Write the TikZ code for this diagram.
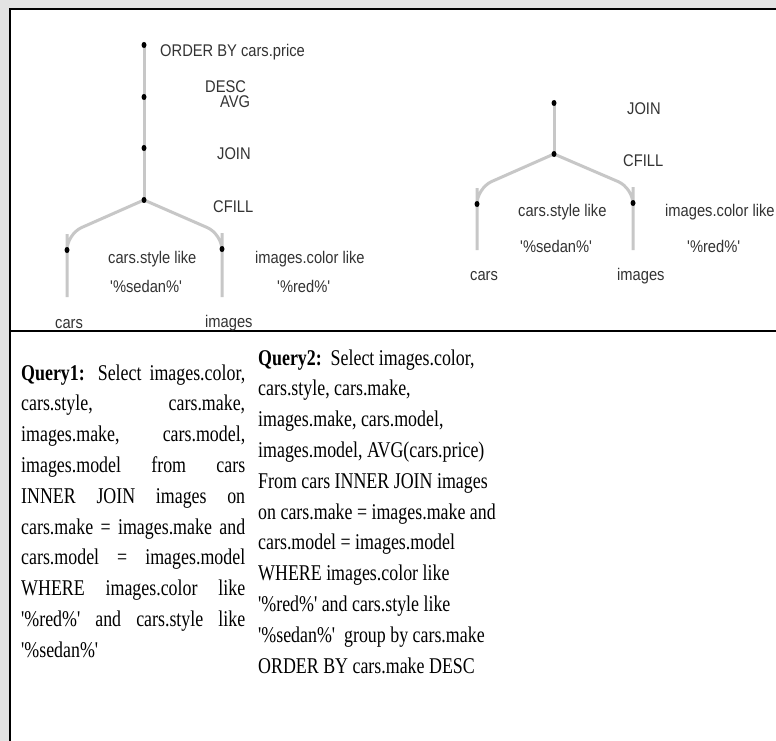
\documentclass[tikz,border=0pt]{standalone}
\usepackage{fontspec}
\usetikzlibrary{shapes.geometric}
\newfontfamily\labfont[FakeStretch=0.87]{Liberation Sans}
\newfontfamily\qfont[FakeStretch=0.795]{Liberation Serif}
\begin{document}
\begin{tikzpicture}[x=1pt,y=-1pt,
  dot/.style={ellipse,fill=black,inner sep=0pt,minimum width=5pt,minimum height=6pt},
  edge/.style={draw=black!22,line width=3pt,rounded corners=16pt},
  lab/.style={text=black!80,font=\labfont\fontsize{16.9}{18}\selectfont,inner sep=0pt,anchor=base west},
  frameline/.style={line width=2.5pt,draw=black},
  qtext/.style={inner sep=0pt,anchor=base west,font=\qfont\fontsize{22.5}{30.8}\selectfont}]
\clip (0,0) rectangle (776,741);
\fill[black!11] (0,0) rectangle (776,741);
\fill[white] (10,9) rectangle (776,741);
\draw[frameline] (10,741) -- (10,9) -- (776,9);
\draw[frameline] (10,331) -- (776,331);

% ---- tree 1 ----
\coordinate (p1) at (144,45);
\coordinate (p2) at (144,97);
\coordinate (p3) at (144,148);
\coordinate (p4) at (144,200);
\coordinate (k1) at (67,234);
\coordinate (k2) at (222,234);
\coordinate (c1) at (67,250);
\coordinate (c2) at (222,249);
\coordinate (e1) at (67,297);
\coordinate (e2) at (222,297);
\draw[edge] (p1) -- (p2) -- (p3) -- (p4);
\draw[edge] (p4) -- (k1) -- (c1) -- (e1);
\draw[edge] (p4) -- (k2) -- (c2) -- (e2);
\node[dot] (n1) at (p1) {};
\node[dot] (n2) at (p2) {};
\node[dot] (n3) at (p3) {};
\node[dot] (n4) at (p4) {};
\node[dot] (n5) at (c1) {};
\node[dot] (n6) at (c2) {};

\node[lab] (l1) at (160,57) {ORDER BY cars.price};
\node[lab] (l2) at (205,93) {DESC};
\node[lab] (l3) at (220,108) {AVG};
\node[lab] (l4) at (217,159) {JOIN};
\node[lab] (l5) at (213,212) {CFILL};
\node[lab] (l6) at (108,263) {cars.style like};
\node[lab] (l7) at (110,292) {'\%sedan\%'};
\node[lab] (l8) at (255,263) {images.color like};
\node[lab] (l9) at (277,292) {'\%red\%'};
\node[lab] (l10) at (55,328) {cars};
\node[lab] (l11) at (205,327) {images};

% ---- tree 2 ----
\coordinate (q1) at (554,103);
\coordinate (q2) at (554,154);
\coordinate (m1) at (477,188);
\coordinate (m2) at (633,188);
\coordinate (d1) at (477,204);
\coordinate (d2) at (633,203);
\coordinate (f1) at (477,250);
\coordinate (f2) at (633,250);
\draw[edge] (q1) -- (q2);
\draw[edge] (q2) -- (m1) -- (d1) -- (f1);
\draw[edge] (q2) -- (m2) -- (d2) -- (f2);
\node[dot] (o1) at (q1) {};
\node[dot] (o2) at (q2) {};
\node[dot] (o3) at (d1) {};
\node[dot] (o4) at (d2) {};

\node[lab] (r1) at (627,114) {JOIN};
\node[lab] (r2) at (623,166) {CFILL};
\node[lab] (r3) at (518,216) {cars.style like};
\node[lab] (r4) at (520,252) {'\%sedan\%'};
\node[lab] (r5) at (665,216) {images.color like};
\node[lab] (r6) at (687,252) {'\%red\%'};
\node[lab] (r7) at (470,280) {cars};
\node[lab] (r8) at (617,280) {images};

% ---- queries ----
\node[qtext] (qa) at (21,380) {\vtop{\baselineskip=30.8pt
\hbox to 224pt{{\bfseries Query1:} Select images.color,}
\hbox to 224pt{cars.style, cars.make,}
\hbox to 224pt{images.make, cars.model,}
\hbox to 224pt{images.model from cars}
\hbox to 224pt{INNER JOIN images on}
\hbox to 224pt{cars.make = images.make and}
\hbox to 224pt{cars.model = images.model}
\hbox to 224pt{WHERE images.color like}
\hbox to 224pt{'\%red\%' and cars.style like}
\hbox{'\%sedan\%'}}};

\node[qtext] (qb) at (258,365) {\vtop{\baselineskip=30.8pt
\hbox{{\bfseries Query2:}\ \ Select images.color,}
\hbox{cars.style, cars.make,}
\hbox{images.make, cars.model,}
\hbox{images.model, AVG(cars.price)}
\hbox{From cars INNER JOIN images}
\hbox{on cars.make = images.make and}
\hbox{cars.model = images.model}
\hbox{WHERE images.color like}
\hbox{'\%red\%' and cars.style like}
\hbox{'\%sedan\%'\ \ group by cars.make}
\hbox{ORDER BY cars.make DESC}}};
\end{tikzpicture}
\end{document}
